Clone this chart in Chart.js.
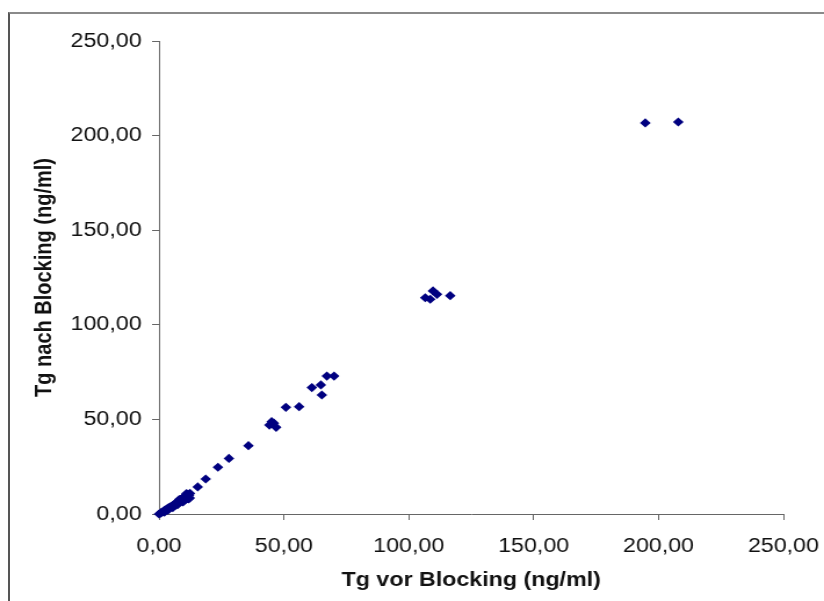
<!DOCTYPE html>
<html>
<head>
<meta charset="utf-8">
<script src="https://cdn.jsdelivr.net/npm/chart.js@4/dist/chart.umd.min.js"></script>
<style>
  html, body { margin: 0; padding: 0; background: #ffffff; overflow: hidden; width: 824px; height: 601px; }
  #frame { position: absolute; left: 8px; top: 12px; width: 900px; height: 700px; border-top: 2px solid #8a8a8a; border-left: 2px solid #555; }
  #wrap { position: absolute; left: 0; top: 0; width: 710px; height: 601px; transform: scaleX(1.1606); transform-origin: 0 0; }
</style>
</head>
<body>
<div id="frame"></div>
<div id="wrap"><canvas id="c" width="710" height="601"></canvas></div>
<script>
// Tg vor Blocking (x) and Tg nach Blocking (y), ng/ml
const tgVor = [
  194.7, 207.9,
  106.6, 109.7, 111.3, 108.6, 116.6,
  67.2, 70.1, 61.2, 64.8, 65.2, 50.8, 56.1, 45.1, 44.2, 46.9, 46.0,
  35.8, 28.0, 23.6, 18.7, 15.5, 12.4, 11.5,
  0.0, 0.6, 1.0, 1.5, 2.0, 2.4, 3.0, 3.4, 3.9, 4.3, 4.8, 5.2, 5.6, 6.0, 6.5,
  7.0, 7.4, 7.9, 8.4, 8.9, 9.3, 9.8, 10.3, 10.8, 11.2, 11.6, 12.0, 10.5, 11.8, 9.0, 6.8,
  2.2, 3.6, 5.5, 7.6, 9.6, 12.3, 11.0, 8.1
];
const tgNach = [
  206.7, 207.2,
  114.3, 117.9, 116.1, 113.5, 115.4,
  72.9, 72.9, 66.8, 68.2, 62.9, 56.4, 56.7, 48.8, 47.0, 45.8, 48.0,
  36.1, 29.4, 24.7, 18.5, 14.3, 10.9, 8.3,
  0.0, 0.4, 0.9, 1.2, 1.6, 2.1, 2.5, 2.9, 3.4, 3.2, 4.1, 3.9, 4.6, 5.0, 5.4,
  5.9, 6.5, 6.6, 7.4, 7.8, 8.3, 8.6, 9.4, 9.9, 9.6, 10.4, 9.8, 7.5, 8.0, 6.8, 4.7,
  1.0, 2.1, 3.4, 5.1, 6.4, 8.4, 10.8, 7.6
];
const axisTicks = [0, 50, 100, 150, 200, 250];
const xTitle = 'Tg vor Blocking (ng/ml)';
const yTitle = 'Tg nach Blocking (ng/ml)';

const points = tgVor.map((x, i) => ({ x: x, y: tgNach[i] }));
const fmt = v => Number(v).toFixed(2).replace('.', ',');
const fontFam = "'Liberation Sans', Arial, sans-serif";

const axisCommon = {
  type: 'linear',
  min: axisTicks[0],
  max: axisTicks[axisTicks.length - 1],
  afterBuildTicks: s => { s.ticks = axisTicks.map(v => ({ value: v })); },
  ticks: { callback: fmt, color: '#111', font: { family: fontFam, size: 20 } },
  grid: { drawOnChartArea: false, drawTicks: true, tickLength: 6, color: '#666', lineWidth: 1 },
  border: { display: true, color: '#666', width: 1 }
};

new Chart(document.getElementById('c'), {
  type: 'scatter',
  data: {
    datasets: [{
      data: points,
      pointStyle: 'rectRot',
      pointRadius: 4.6,
      backgroundColor: '#000080',
      borderColor: '#000080',
      borderWidth: 0,
      clip: false
    }]
  },
  options: {
    responsive: false,
    devicePixelRatio: 1,
    animation: false,
    layout: { padding: { left: 0, top: 41, right: 35, bottom: 0 } },
    plugins: { legend: { display: false }, tooltip: { enabled: false } },
    scales: {
      x: Object.assign({}, axisCommon, {
        position: 'bottom',
        ticks: Object.assign({}, axisCommon.ticks, { padding: 14, maxRotation: 0 }),
        title: { display: true, text: xTitle, color: '#111', font: { family: fontFam, size: 20, weight: 'bold' }, padding: { top: 0, bottom: 9 } },
        afterFit: s => { s.height = 87; s.paddingLeft = 0; s.paddingRight = 0; }
      }),
      y: Object.assign({}, axisCommon, {
        position: 'left',
        ticks: Object.assign({}, axisCommon.ticks, { padding: 9 }),
        title: { display: true, text: yTitle, color: '#111', font: { family: fontFam, size: 20, weight: 'bold' }, padding: { top: 26, bottom: 0 } },
        afterFit: s => { s.width = 137; s.paddingTop = 0; s.paddingBottom = 0; }
      })
    }
  }
});
</script>
</body>
</html>
